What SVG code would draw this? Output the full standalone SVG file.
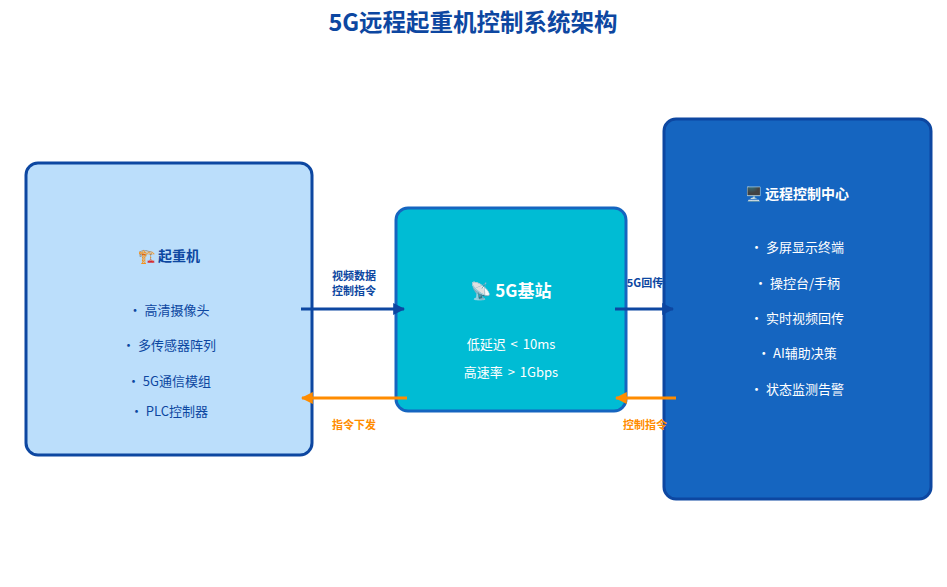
<svg xmlns="http://www.w3.org/2000/svg" width="947" height="587" viewBox="0 0 947 587">
<defs>
<style>
text{font-family:"Noto Sans CJK SC","Noto Sans",sans-serif;text-anchor:middle;}
.title{font-size:23.5px;font-weight:bold;fill:#0d47a1;}
.hdr{font-size:14px;font-weight:bold;}
.item{font-size:13px;}
.lbl{font-size:11px;font-weight:bold;}
.blue{fill:#0d47a1;}
.white{fill:#ffffff;}
.orange{fill:#ff8c00;}
.ln-b{stroke:#0d47a1;stroke-width:3;fill:none;}
.ln-o{stroke:#ff8c00;stroke-width:3;fill:none;}
</style>
<marker id="ab" viewBox="0 0 10 10" refX="9" refY="5" markerWidth="4" markerHeight="4" orient="auto" markerUnits="strokeWidth"><path d="M0,0 L10,5 L0,10 z" fill="#0d47a1"/></marker>
<marker id="ao" viewBox="0 0 10 10" refX="9" refY="5" markerWidth="4" markerHeight="4" orient="auto" markerUnits="strokeWidth"><path d="M0,0 L10,5 L0,10 z" fill="#ff8c00"/></marker>
</defs>
<rect width="947" height="587" fill="#ffffff"/>
<text class="title" x="473" y="31">5G远程起重机控制系统架构</text>

<g id="crane">
<rect x="26" y="163" width="286" height="292" rx="12" fill="#bbdefb" stroke="#0d47a1" stroke-width="3"/>
<text class="hdr blue" x="169" y="261">🏗️ 起重机</text>
<text class="item blue" x="169" y="315">• 高清摄像头</text>
<text class="item blue" x="169" y="350">• 多传感器阵列</text>
<text class="item blue" x="169" y="386">• 5G通信模组</text>
<text class="item blue" x="169" y="416">• PLC控制器</text>
</g>

<g id="station">
<rect x="396" y="208" width="230" height="203" rx="12" fill="#00bcd4" stroke="#1565c0" stroke-width="3"/>
<text class="white" x="511" y="297" style="font-size:17px;font-weight:bold">📡 5G基站</text>
<text class="item white" x="511" y="349" style="word-spacing:2px">低延迟 &lt; 10ms</text>
<text class="item white" x="511" y="377" style="word-spacing:2px">高速率 &gt; 1Gbps</text>
</g>

<g id="center">
<rect x="664" y="119" width="267" height="380" rx="12" fill="#1565c0" stroke="#0d47a1" stroke-width="3"/>
<text class="hdr white" x="797" y="199">🖥️ 远程控制中心</text>
<text class="item white" x="797" y="252">• 多屏显示终端</text>
<text class="item white" x="797" y="288">• 操控台/手柄</text>
<text class="item white" x="797" y="323">• 实时视频回传</text>
<text class="item white" x="797" y="358">• AI辅助决策</text>
<text class="item white" x="797" y="394">• 状态监测告警</text>
</g>

<g id="connectors">
<line class="ln-b" x1="301" y1="309" x2="404" y2="309" marker-end="url(#ab)"/>
<text class="lbl blue" x="354" y="280">视频数据</text>
<text class="lbl blue" x="354" y="295">控制指令</text>
<line class="ln-b" x1="615" y1="309" x2="673" y2="309" marker-end="url(#ab)"/>
<text class="lbl blue" x="645" y="287">5G回传</text>
<line class="ln-o" x1="407" y1="398" x2="302" y2="398" marker-end="url(#ao)"/>
<text class="lbl orange" x="354" y="429">指令下发</text>
<line class="ln-o" x1="676" y1="398" x2="616" y2="398" marker-end="url(#ao)"/>
<text class="lbl orange" x="645" y="429">控制指令</text>
</g>
</svg>
